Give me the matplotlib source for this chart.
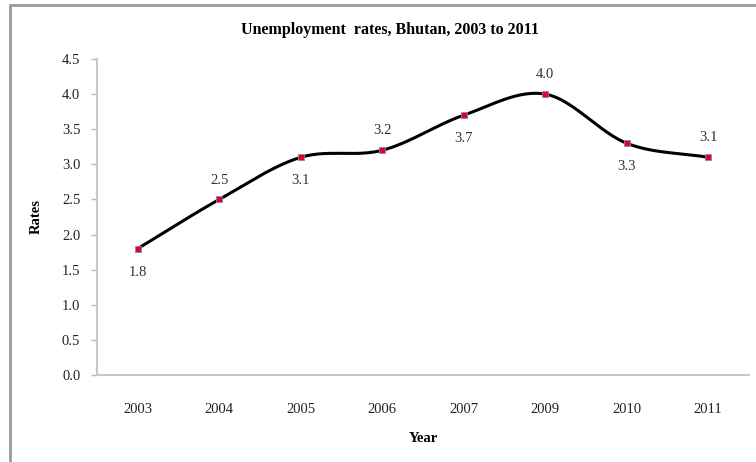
import numpy as np
import matplotlib
matplotlib.use("Agg")
import matplotlib.pyplot as plt
from matplotlib.patches import Rectangle

years = ["2003", "2004", "2005", "2006", "2007", "2009", "2010", "2011"]
rates = [1.8, 2.5, 3.1, 3.2, 3.7, 4.0, 3.3, 3.1]
label_pos = ["below", "above", "below", "above", "below", "above", "below", "above"]
yticks = [0.0, 0.5, 1.0, 1.5, 2.0, 2.5, 3.0, 3.5, 4.0, 4.5]

plt.rcParams['font.family'] = ['Liberation Serif', 'DejaVu Serif']

fig = plt.figure(figsize=(7.56, 4.62), dpi=100)
ax = fig.add_axes([97/756, 1-375/462, (749-97)/756, (375-59)/462])

x = np.arange(len(years))
y = np.array(rates)

# Catmull-Rom smoothing (similar to Excel smoothed lines)
def catmull(xp, yp, n=30):
    px = np.concatenate([[2*xp[0]-xp[1]], xp, [2*xp[-1]-xp[-2]]])
    py = np.concatenate([[2*yp[0]-yp[1]], yp, [2*yp[-1]-yp[-2]]])
    xs, ys = [], []
    for i in range(1, len(px)-2):
        t = np.linspace(0, 1, n)
        for arr, out in ((px, xs), (py, ys)):
            p0, p1, p2, p3 = arr[i-1], arr[i], arr[i+1], arr[i+2]
            out.append(0.5*((2*p1) + (-p0+p2)*t + (2*p0-5*p1+4*p2-p3)*t**2 + (-p0+3*p1-3*p2+p3)*t**3))
    return np.concatenate(xs), np.concatenate(ys)

sx, sy = catmull(x.astype(float), y)
ax.plot(sx, sy, color='black', lw=2.2, zorder=2)
ax.plot(x, y, ls='none', marker='s', ms=4, mfc='#e8001c', mec='#6f8fd0', mew=0.6, zorder=3)

for xi, yi, pos in zip(x, y, label_pos):
    off = 14 if pos == "above" else -17
    ax.annotate(f"{yi:.1f}", (xi, yi), xytext=(0, off), textcoords='offset points',
                ha='center', va='center', fontsize=10.5, color='#333333')

ax.set_xlim(-0.5, len(years)-0.5)
ax.set_ylim(0, 4.5)
ax.set_xticks(x)
ax.set_xticklabels(years, fontsize=10.5, color='#222222')
ax.set_yticks(yticks)
ax.set_yticklabels([f"{v:.1f}" for v in yticks], fontsize=10.5, color='#222222')
ax.tick_params(axis='x', length=0, pad=20)
ax.tick_params(axis='y', length=4, color='#bbbbbb', width=1, pad=8)
for s in ['top', 'right']:
    ax.spines[s].set_visible(False)
for s in ['left', 'bottom']:
    ax.spines[s].set_color('#c8c8c8')
    ax.spines[s].set_linewidth(1.5)

ax.set_xlabel("Year", fontsize=10.5, fontweight='bold', labelpad=12)
ax.set_ylabel("Rates", fontsize=10.5, fontweight='bold', labelpad=14)
fig.text(390/756, 1-30/462, "Unemployment  rates, Bhutan, 2003 to 2011",
         ha='center', va='center', fontsize=11.5, fontweight='bold')

fig.patches.append(Rectangle((10/756, -0.05), 1.2, 1-5/462+0.05, transform=fig.transFigure,
                             fill=False, edgecolor='#999999', lw=2))

fig.savefig("out.png", dpi=100)
